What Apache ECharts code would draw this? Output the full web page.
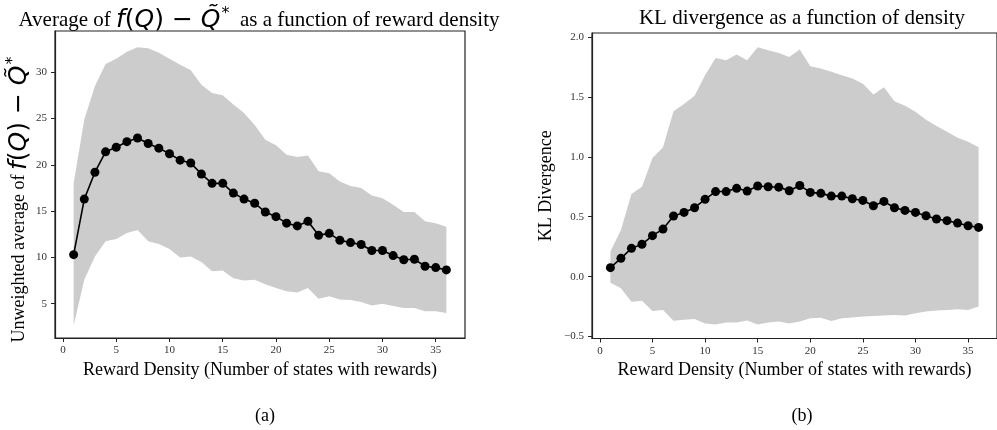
<!DOCTYPE html>
<html>
<head>
<meta charset="utf-8">
<script src="https://cdn.jsdelivr.net/npm/echarts@6/dist/echarts.min.js"></script>
<style>
  html, body { margin: 0; padding: 0; background: #fff; }
  #chart { width: 997px; height: 430px; }
</style>
</head>
<body>
<div id="chart"></div>
<script>
// number of states with rewards
const density = [1, 2, 3, 4, 5, 6, 7, 8, 9, 10, 11, 12, 13, 14, 15, 16, 17, 18,
  19, 20, 21, 22, 23, 24, 25, 26, 27, 28, 29, 30, 31, 32, 33, 34, 35, 36]

// (a) average of f(Q) - Q*
const avgMean = [10.3, 16.3, 19.2, 21.4, 21.9, 22.5, 22.9, 22.3, 21.8, 21.2, 20.5, 20.2,
  19.0, 18.0, 18.0, 16.95, 16.3, 15.85, 14.9, 14.4, 13.7, 13.4, 13.9, 12.4,
  12.6, 11.85, 11.6, 11.4, 10.75, 10.75, 10.2, 9.75, 9.8, 9.05, 8.9, 8.65]
const avgUpper = [18.0, 24.9, 28.5, 30.9, 31.45, 32.2, 32.7, 32.6, 32.1, 31.45, 30.8, 30.2,
  28.65, 27.75, 27.5, 26.5, 25.6, 24.3, 22.7, 22.1, 21.1, 20.85, 21.0, 19.3,
  19.1, 18.2, 17.7, 17.5, 16.7, 16.4, 15.7, 14.9, 14.9, 13.9, 13.7, 13.3]
const avgLower = [2.65, 7.6, 10.1, 11.75, 12.0, 12.65, 12.95, 11.75, 11.45, 10.9, 10.0, 10.1,
  9.5, 8.5, 8.6, 7.75, 7.5, 7.6, 7.1, 6.7, 6.35, 6.2, 6.7, 5.55,
  5.8, 5.45, 5.4, 5.2, 4.8, 5.0, 4.75, 4.55, 4.55, 4.2, 4.2, 4.0]

// (b) KL divergence
const klMean = [0.075, 0.153, 0.236, 0.27, 0.342, 0.397, 0.506, 0.536, 0.575, 0.645, 0.71, 0.71,
  0.737, 0.714, 0.756, 0.75, 0.747, 0.717, 0.761, 0.703, 0.695, 0.672, 0.672, 0.65,
  0.636, 0.592, 0.628, 0.575, 0.553, 0.536, 0.508, 0.481, 0.467, 0.447, 0.425, 0.411]
const klUpper = [0.21, 0.39, 0.69, 0.75, 0.99, 1.08, 1.38, 1.44, 1.51, 1.68, 1.825, 1.806,
  1.853, 1.806, 1.915, 1.89, 1.867, 1.833, 1.895, 1.756, 1.737, 1.71, 1.68, 1.653,
  1.61, 1.52, 1.58, 1.464, 1.425, 1.375, 1.31, 1.256, 1.21, 1.16, 1.125, 1.08]
const klLower = [-0.05, -0.097, -0.21, -0.2, -0.286, -0.278, -0.367, -0.36, -0.353, -0.39, -0.40, -0.383,
  -0.383, -0.365, -0.40, -0.383, -0.375, -0.39, -0.375, -0.347, -0.342, -0.37, -0.347, -0.34,
  -0.333, -0.328, -0.325, -0.32, -0.325, -0.305, -0.29, -0.283, -0.278, -0.272, -0.278, -0.25]

// tick labels
const xTicks = [0, 5, 10, 15, 20, 25, 30, 35]
const avgTicks = [5, 10, 15, 20, 25, 30]
const klTicks = [-0.5, 0.0, 0.5, 1.0, 1.5, 2.0]

const serif = '"Liberation Serif", "DejaVu Serif", serif'
const mathFont = '"DejaVu Sans", sans-serif'
const bandColor = '#cccccc'

const pairs = (ys) => density.map((x, i) => [x, ys[i]])

const mathRich = (size, msize) => ({
  n: { fontFamily: serif, fontSize: size, fontWeight: 'normal', color: '#000' },
  m: { fontFamily: mathFont, fontStyle: 'italic', fontWeight: 'normal', fontSize: msize, color: '#000' },
  o: { fontFamily: mathFont, fontWeight: 'normal', fontSize: msize, color: '#000' },
  s: { fontFamily: mathFont, fontWeight: 'normal', fontSize: Math.round(msize * 0.65), color: '#000', verticalAlign: 'top', padding: [0, 0, 13, 1] }
})

const xAxisBase = (gridIndex) => ({
  type: 'value',
  gridIndex,
  min: -0.75,
  max: 37.75,
  name: 'Reward Density (Number of states with rewards)',
  nameLocation: 'middle',
  nameGap: 22,
  nameTextStyle: { fontFamily: serif, fontSize: 18, color: '#000' },
  axisLine: { show: true, onZero: false, lineStyle: { color: '#222', width: 1.2 } },
  axisTick: { show: true, customValues: xTicks, length: 4, lineStyle: { color: '#222' } },
  axisLabel: { customValues: xTicks, fontFamily: serif, fontSize: 11, color: '#333', margin: 7 },
  splitLine: { show: false }
})

const yAxisBase = (gridIndex, min, max, ticks, fmt) => ({
  type: 'value',
  gridIndex,
  min,
  max,
  axisLine: { show: true, onZero: false, lineStyle: { color: '#222', width: 1.2 } },
  axisTick: { show: true, customValues: ticks, length: 4, lineStyle: { color: '#222' } },
  axisLabel: { customValues: ticks, formatter: fmt, fontFamily: serif, fontSize: 11, color: '#333', margin: 8 },
  splitLine: { show: false }
})

// shaded band: one polygon, upper edge left to right, lower edge back
const bandSeries = (idx, lo, up) => ({
  type: 'custom',
  xAxisIndex: idx,
  yAxisIndex: idx,
  silent: true,
  z: 1,
  data: density.map((x, i) => [x, lo[i], up[i]]),
  encode: { x: 0, y: [1, 2] },
  renderItem: (params, api) => {
    if (params.dataIndex !== 0) return null
    const top = density.map((x, i) => api.coord([x, up[i]]))
    const bottom = density.map((x, i) => api.coord([x, lo[i]])).reverse()
    return {
      type: 'polygon',
      shape: { points: top.concat(bottom) },
      style: { fill: bandColor, stroke: null }
    }
  }
})

const meanSeries = (idx, ys) => ({
  type: 'line', xAxisIndex: idx, yAxisIndex: idx,
  data: pairs(ys),
  symbol: 'circle', symbolSize: 9,
  lineStyle: { color: '#000', width: 1.6 },
  itemStyle: { color: '#000' },
  z: 3
})

const chart = echarts.init(document.getElementById('chart'), null, { renderer: 'canvas' })

chart.setOption({
  animation: false,
  backgroundColor: '#fff',
  title: [
    {
      text: '{n|Average of }{m|f}{o|(}{m|Q}{o|) − }{m|Q\u0303}{s|*}{n|  as a function of reward density}',
      left: 254, top: 1, textAlign: 'center',
      textStyle: { fontWeight: 'normal', rich: mathRich(21, 25) }
    },
    {
      text: 'KL divergence as a function of density',
      left: 797, top: 3, textAlign: 'center',
      textStyle: { fontFamily: serif, fontSize: 21, fontWeight: 'normal', color: '#000' }
    },
    {
      text: '(a)', left: 260, top: 402, textAlign: 'center',
      textStyle: { fontFamily: serif, fontSize: 18, fontWeight: 'normal', color: '#000' }
    },
    {
      text: '(b)', left: 797, top: 402, textAlign: 'center',
      textStyle: { fontFamily: serif, fontSize: 18, fontWeight: 'normal', color: '#000' }
    }
  ],
  grid: [
    { left: 55, right: 532, top: 31, bottom: 92, show: true, borderColor: '#222', borderWidth: 1.2, backgroundColor: 'transparent' },
    { left: 592, right: -7, top: 33, bottom: 91.5, show: true, borderColor: '#222', borderWidth: 1.2, backgroundColor: 'transparent' }
  ],
  xAxis: [xAxisBase(0), xAxisBase(1)],
  yAxis: [
    Object.assign(yAxisBase(0, 1.3, 34.45, avgTicks, (v) => String(v)), {
      name: '{n|Unweighted average of }{m|f}{o|(}{m|Q}{o|) − }{m|Q\u0303}{s|*}',
      nameLocation: 'middle',
      nameGap: 19,
      nameRotate: 90,
      nameTextStyle: { rich: mathRich(18, 25), padding: [0, 30, 0, 0] }
    }),
    Object.assign(yAxisBase(1, -0.516, 2.033, klTicks, (v) => (v < 0 ? '\u2212' : '') + Math.abs(v).toFixed(1)), {
      name: 'KL Divergence',
      nameLocation: 'middle',
      nameGap: 37,
      nameRotate: 90,
      nameTextStyle: { fontFamily: serif, fontSize: 18, color: '#000' }
    })
  ],
  series: [
    bandSeries(0, avgLower, avgUpper),
    meanSeries(0, avgMean),
    bandSeries(1, klLower, klUpper),
    meanSeries(1, klMean)
  ]
})
</script>
</body>
</html>
